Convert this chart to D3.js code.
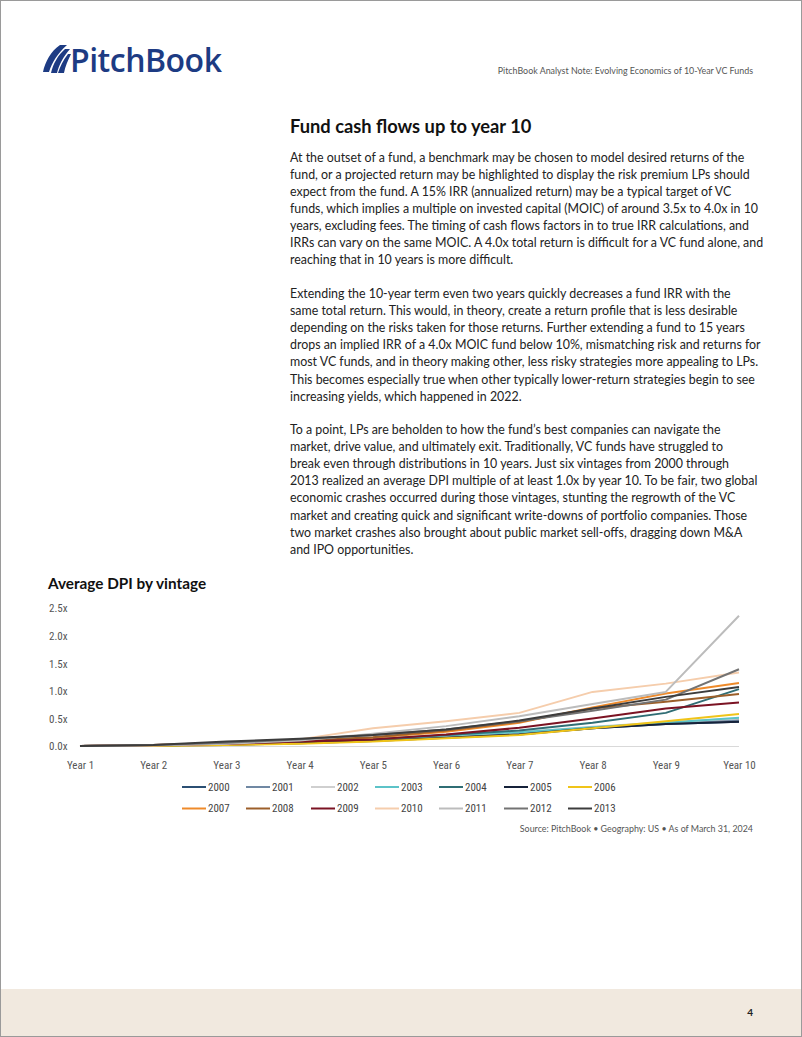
<!DOCTYPE html>
<html><head><meta charset="utf-8">
<script src="https://cdn.jsdelivr.net/npm/d3@7"></script>
<style>
html,body{margin:0;padding:0;background:#fff;}
svg{display:block;}
</style></head>
<body>
<svg id="page" width="802" height="1037"></svg>
<script>
const years = ["Year 1","Year 2","Year 3","Year 4","Year 5","Year 6","Year 7","Year 8","Year 9","Year 10"];
const yTicks = [0, 0.5, 1.0, 1.5, 2.0, 2.5];
const vintages = ["2000","2001","2002","2003","2004","2005","2006","2007","2008","2009","2010","2011","2012","2013"];
const colors = ["#2b4f73","#7088a3","#cfcfcf","#5cc3c8","#2f6d74","#16223a","#f0c419","#ee8a2a","#9c5f2a","#7b1323","#f5cdac","#bcbcbc","#737373","#3c3c3c"];
const v2000 = [0, 0.01, 0.03, 0.06, 0.10, 0.16, 0.22, 0.32, 0.40, 0.44];
const v2001 = [0, 0.01, 0.03, 0.06, 0.10, 0.16, 0.23, 0.33, 0.41, 0.47];
const v2002 = [0, 0.01, 0.03, 0.06, 0.11, 0.18, 0.25, 0.35, 0.43, 0.50];
const v2003 = [0, 0.01, 0.03, 0.07, 0.12, 0.19, 0.25, 0.34, 0.42, 0.51];
const v2004 = [0, 0.01, 0.03, 0.07, 0.12, 0.20, 0.28, 0.42, 0.60, 1.03];
const v2005 = [0, 0.01, 0.02, 0.05, 0.09, 0.15, 0.21, 0.32, 0.40, 0.44];
const v2006 = [0, 0.00, 0.02, 0.04, 0.08, 0.14, 0.20, 0.32, 0.45, 0.58];
const v2007 = [0, 0.01, 0.04, 0.09, 0.15, 0.26, 0.42, 0.70, 0.95, 1.14];
const v2008 = [0, 0.02, 0.05, 0.10, 0.16, 0.28, 0.44, 0.68, 0.80, 0.94];
const v2009 = [0, 0.02, 0.04, 0.08, 0.12, 0.21, 0.33, 0.50, 0.68, 0.79];
const v2010 = [0, 0.02, 0.05, 0.12, 0.32, 0.45, 0.60, 0.98, 1.13, 1.33];
const v2011 = [0, 0.01, 0.04, 0.10, 0.22, 0.36, 0.54, 0.76, 0.98, 2.36];
const v2012 = [0, 0.02, 0.06, 0.12, 0.20, 0.30, 0.45, 0.64, 0.84, 1.39];
const v2013 = [0, 0.02, 0.08, 0.13, 0.20, 0.30, 0.46, 0.68, 0.89, 1.07];
const seriesValues = [v2000,v2001,v2002,v2003,v2004,v2005,v2006,v2007,v2008,v2009,v2010,v2011,v2012,v2013];

const para1 = [
"At the outset of a fund, a benchmark may be chosen to model desired returns of the",
"fund, or a projected return may be highlighted to display the risk premium LPs should",
"expect from the fund. A 15% IRR (annualized return) may be a typical target of VC",
"funds, which implies a multiple on invested capital (MOIC) of around 3.5x to 4.0x in 10",
"years, excluding fees. The timing of cash flows factors in to true IRR calculations, and",
"IRRs can vary on the same MOIC. A 4.0x total return is difficult for a VC fund alone, and",
"reaching that in 10 years is more difficult."];
const para2 = [
"Extending the 10-year term even two years quickly decreases a fund IRR with the",
"same total return. This would, in theory, create a return profile that is less desirable",
"depending on the risks taken for those returns. Further extending a fund to 15 years",
"drops an implied IRR of a 4.0x MOIC fund below 10%, mismatching risk and returns for",
"most VC funds, and in theory making other, less risky strategies more appealing to LPs.",
"This becomes especially true when other typically lower-return strategies begin to see",
"increasing yields, which happened in 2022."];
const para3 = [
"To a point, LPs are beholden to how the fund\u2019s best companies can navigate the",
"market, drive value, and ultimately exit. Traditionally, VC funds have struggled to",
"break even through distributions in 10 years. Just six vintages from 2000 through",
"2013 realized an average DPI multiple of at least 1.0x by year 10. To be fair, two global",
"economic crashes occurred during those vintages, stunting the regrowth of the VC",
"market and creating quick and significant write-downs of portfolio companies. Those",
"two market crashes also brought about public market sell-offs, dragging down M&A",
"and IPO opportunities."];

const svg = d3.select("#page");
const FONT = "Lato, 'Open Sans', sans-serif";
const NARROW = "'Liberation Sans Narrow', 'Roboto Condensed', Lato, sans-serif";

// page border
svg.append("rect").attr("x",0.5).attr("y",0.5).attr("width",801).attr("height",1036)
  .attr("fill","#fff").attr("stroke","#9a9a9a");

// footer band
svg.append("rect").attr("x",1).attr("y",989).attr("width",800).attr("height",47).attr("fill","#f1e9df");
svg.append("text").attr("x",753).attr("y",1016).attr("text-anchor","end")
  .attr("font-family",FONT).attr("font-size",10).attr("font-weight",700).attr("fill","#222").text("4");

// logo
const logo = svg.append("g").attr("fill","#1d3b83");
logo.append("path").attr("d","M43,72 C45,62 51,51 60,45 L67,45 C58,53 52,62 49,72 Z");
logo.append("path").attr("d","M51,73 C53,64 58,55 65,49 L70,49 C63,57 59,65 57,73 Z");
logo.append("path").attr("d","M58,73 C60,67 63,60 68,54 L71,54 C68,60 65,67 64,73 Z");
svg.append("text").attr("x",70).attr("y",72).attr("font-family","'Open Sans', Lato, sans-serif")
  .attr("font-size",32).attr("font-weight",600).attr("letter-spacing",-0.5).attr("fill","#1d3b83").text("PitchBook");

svg.append("text").attr("x",753).attr("y",74).attr("text-anchor","end")
  .attr("font-family",FONT).attr("font-size",8.9).attr("fill","#555").text("PitchBook Analyst Note: Evolving Economics of 10-Year VC Funds");

// title
svg.append("text").attr("x",290).attr("y",133).attr("font-family",FONT).attr("font-size",18.3)
  .attr("font-weight",700).attr("fill","#111").text("Fund cash flows up to year 10");

function para(lines, y0){
  svg.append("g").selectAll("text").data(lines).join("text")
    .attr("x",290).attr("y",(d,i)=>y0 + i*17.1)
    .attr("font-family",FONT).attr("font-size",12.4).attr("fill","#222").text(d=>d);
}
para(para1, 161.5);
para(para2, 298);
para(para3, 434);

// chart
svg.append("text").attr("x",48).attr("y",589).attr("font-family",FONT).attr("font-size",15.3)
  .attr("font-weight",700).attr("fill","#111").text("Average DPI by vintage");

const x = d3.scalePoint().domain(years).range([80,739]);
const y = d3.scaleLinear().domain([0,2.5]).range([746,608]);

const yAxis = svg.append("g").attr("transform","translate(48,0)")
  .call(d3.axisLeft(y).tickValues(yTicks).tickFormat(d=>d.toFixed(1)+"x").tickSize(0));
yAxis.select(".domain").remove();
yAxis.selectAll("text").attr("text-anchor","start").attr("x",1).attr("dy","0.35em")
  .attr("font-family",NARROW).attr("font-size",11).attr("fill","#555");

svg.append("line").attr("x1",80).attr("x2",739).attr("y1",y(0)+0.5).attr("y2",y(0)+0.5)
  .attr("stroke","#d9d9d9").attr("stroke-width",1);

const xAxis = svg.append("g").attr("transform","translate(0,758)")
  .call(d3.axisBottom(x).tickSize(0));
xAxis.select(".domain").remove();
xAxis.selectAll("text").attr("dy","0.71em").attr("font-family",NARROW).attr("font-size",11).attr("fill","#555");

const line = d3.line().x((d,i)=>x(years[i])).y(d=>y(d));
svg.append("g").selectAll("path").data(seriesValues).join("path")
  .attr("d",line).attr("fill","none").attr("stroke",(d,i)=>colors[i])
  .attr("stroke-width",2).attr("stroke-linejoin","round");

// legend
const legX = [182,246,311,375,439,504,568];
const legend = svg.append("g");
vintages.forEach((v,i)=>{
  const col = i%7, row = Math.floor(i/7);
  const lx = legX[col], ly = 787 + row*21.5;
  legend.append("line").attr("x1",lx).attr("x2",lx+24).attr("y1",ly).attr("y2",ly)
    .attr("stroke",colors[i]).attr("stroke-width",2);
  legend.append("text").attr("x",lx+26).attr("y",ly).attr("dy","0.35em")
    .attr("font-family",NARROW).attr("font-size",11).attr("fill","#444").text(v);
});

svg.append("text").attr("x",753).attr("y",832).attr("text-anchor","end")
  .attr("font-family",FONT).attr("font-size",8.9).attr("fill","#555")
  .text("Source: PitchBook  \u2022  Geography: US  \u2022  As of March 31, 2024");
</script>
</body></html>
